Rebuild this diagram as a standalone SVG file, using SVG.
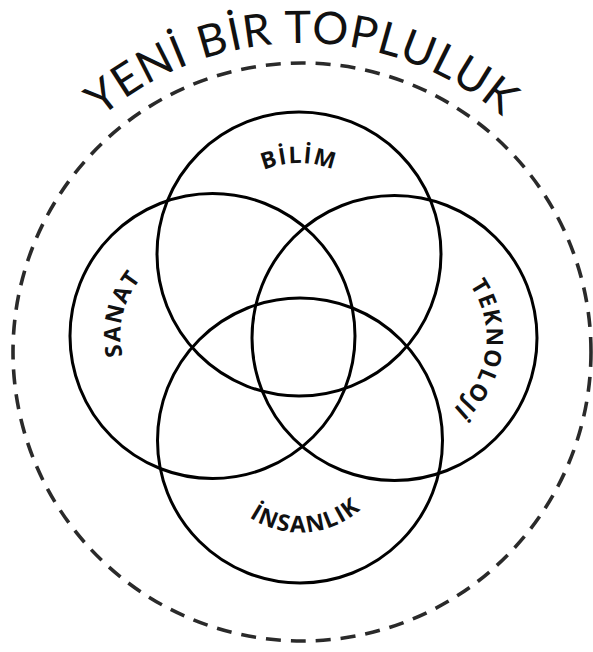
<svg xmlns="http://www.w3.org/2000/svg" width="593" height="652" viewBox="0 0 593 652">
  <style>
    .ring { fill: none; stroke: #000; stroke-width: 3; }
    .outer { fill: none; stroke: #2a2a2a; stroke-width: 3.6; stroke-dasharray: 15 10; }
    .title { font-family: "Lato", "Liberation Sans", sans-serif; font-weight: 400; font-size: 45px; fill: #111; letter-spacing: 1px; }
    .label { font-family: "Open Sans", "Liberation Sans", sans-serif; font-weight: 700; font-size: 23px; fill: #111; letter-spacing: 1.5px; }
  </style>
  <defs>
    <path id="p-title" d="M -7 352 A 309 309 0 0 1 611 352"/>
    <path id="p-bilim" d="M 208 254 A 91 91 0 0 1 390 254"/>
    <path id="p-sanat" d="M 212.5 428 A 92 92 0 0 1 212.5 244"/>
    <path id="p-tekno" d="M 394.5 246 A 92 92 0 0 1 394.5 430"/>
    <path id="p-insan" d="M 208 440.5 A 92 92 0 0 0 392 440.5"/>
  </defs>

  <g id="community">
    <circle class="outer" cx="302" cy="352" r="289"/>
    <text class="title" text-anchor="middle"><textPath href="#p-title" startOffset="50%">YENİ BİR TOPLULUK</textPath></text>
  </g>

  <g id="bilim">
    <circle class="ring" cx="299" cy="254" r="142"/>
    <text class="label" text-anchor="middle"><textPath href="#p-bilim" startOffset="50%">BİLİM</textPath></text>
  </g>

  <g id="sanat">
    <circle class="ring" cx="212.5" cy="336" r="142.5"/>
    <text class="label" text-anchor="middle"><textPath href="#p-sanat" startOffset="57.5%">SANAT</textPath></text>
  </g>

  <g id="teknoloji">
    <circle class="ring" cx="394.5" cy="338" r="142.5"/>
    <text class="label" text-anchor="middle"><textPath href="#p-tekno" startOffset="54.4%">TEKNOLOJİ</textPath></text>
  </g>

  <g id="insanlik">
    <circle class="ring" cx="300" cy="440.5" r="142.5"/>
    <text class="label" text-anchor="middle"><textPath href="#p-insan" startOffset="52.4%">İNSANLIK</textPath></text>
  </g>

  <g id="connectors"></g>
</svg>
